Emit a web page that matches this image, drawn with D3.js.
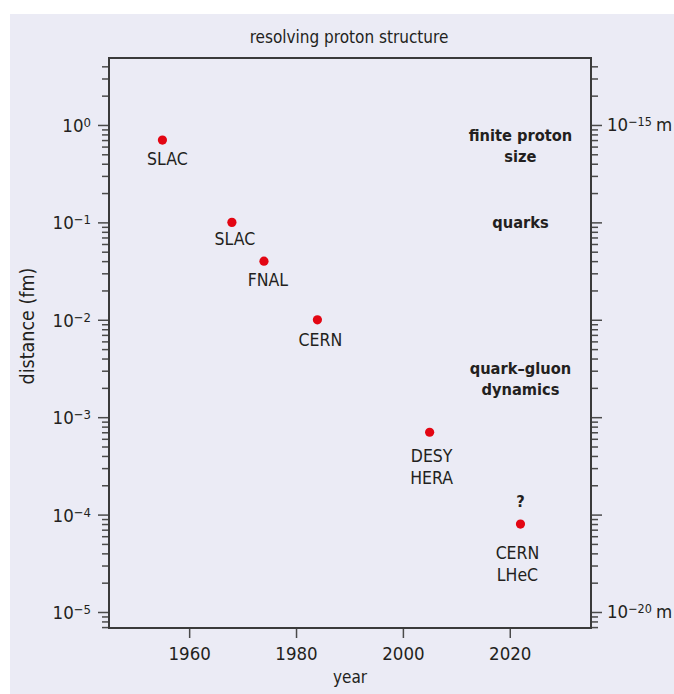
<!DOCTYPE html>
<html>
<head>
<meta charset="utf-8">
<script src="https://cdn.jsdelivr.net/npm/d3@7"></script>
<style>
  html, body { margin: 0; padding: 0; background: #fff; }
  svg { display: block; }
  text { font-family: "DejaVu Sans Condensed", "DejaVu Sans", sans-serif; font-stretch: condensed; fill: #231f20; }
</style>
</head>
<body>
<svg id="chart" width="674" height="694"></svg>
<script>
// experiments: year and smallest distance resolved (fm)
const years = [1955, 1968, 1974, 1984, 2005, 2022];
const distances = [0.7, 0.1, 0.04, 0.01, 0.0007, 0.00008];
const labels = [["SLAC"], ["SLAC"], ["FNAL"], ["CERN"], ["DESY", "HERA"], ["CERN", "LHeC"]];

// axis ticks
const yearTicks = [1960, 1980, 2000, 2020];
const rightExps = [0, -5];
const rightTexts = ["−15", "−20"];

// bold annotations on the right
const noteLines = [["finite proton", "size"], ["quarks"], ["quark–gluon", "dynamics"], ["?"]];
const noteYears = [2022, 2022, 2022, 2022];
const noteDist = [0.69, 0.088, 0.0028, 0.00012];

const svg = d3.select("#chart");
const W = +svg.attr("width");
const H = +svg.attr("height");

// lavender panel
svg.append("rect")
  .attr("x", 10).attr("y", 14)
  .attr("width", W - 10).attr("height", H - 14)
  .attr("fill", "#ebebf5");

const x = d3.scaleLinear().domain([1945, 2035.2]).range([109, 591]);
const y = d3.scaleLog().domain([6.85e-6, 4.87]).range([628, 58]);

const isMajor = (d) => Math.abs(Math.log10(d) - Math.round(Math.log10(d))) < 1e-9;
const expText = (e) => (e === 0 ? "0" : "−" + -e);
const yTicks = y.ticks().filter((d) => d >= y.domain()[0] && d <= y.domain()[1]);

// left axis
const gl = svg.append("g")
  .attr("transform", `translate(${x.range()[0]},0)`)
  .call(d3.axisLeft(y).tickValues(yTicks).tickFormat(""));
gl.select(".domain").remove();
gl.selectAll(".tick text").remove();
gl.selectAll(".tick line")
  .attr("x2", (d) => (isMajor(d) ? -11 : -7))
  .attr("stroke", "#4a4a4a")
  .attr("stroke-width", 1.5);
gl.selectAll(".tick").filter(isMajor)
  .append("text")
  .attr("x", -18).attr("y", 6.5)
  .attr("text-anchor", "end")
  .attr("font-size", 18.5)
  .each(function (d) {
    const t = d3.select(this);
    t.append("tspan").text("10");
    t.append("tspan").attr("font-size", 13).attr("dy", -5)
      .text(expText(Math.round(Math.log10(d))));
  });

// right axis
const gr = svg.append("g")
  .attr("transform", `translate(${x.range()[1]},0)`)
  .call(d3.axisRight(y).tickValues(yTicks).tickFormat(""));
gr.select(".domain").remove();
gr.selectAll(".tick text").remove();
gr.selectAll(".tick line")
  .attr("x2", (d) => (isMajor(d) ? 11 : 7))
  .attr("stroke", "#4a4a4a")
  .attr("stroke-width", 1.5);
rightExps.forEach((e, i) => {
  const t = svg.append("text")
    .attr("x", x.range()[1] + 16)
    .attr("y", y(Math.pow(10, e)) + 6.5)
    .attr("font-size", 18.5);
  t.append("tspan").text("10");
  t.append("tspan").attr("font-size", 12.5).attr("dy", -5).text(rightTexts[i]);
  t.append("tspan").attr("dy", 5).attr("dx", 4).text("m");
});

// bottom axis
const gb = svg.append("g")
  .attr("transform", `translate(0,${y.range()[0]})`)
  .call(d3.axisBottom(x).tickValues(yearTicks).tickSize(10).tickPadding(9).tickFormat(d3.format("d")));
gb.select(".domain").remove();
gb.selectAll(".tick line").attr("stroke", "#4a4a4a").attr("stroke-width", 1.5);
gb.selectAll(".tick text").attr("font-size", 18.5).attr("fill", null);

// frame
svg.append("rect")
  .attr("x", x.range()[0]).attr("y", y.range()[1])
  .attr("width", x.range()[1] - x.range()[0])
  .attr("height", y.range()[0] - y.range()[1])
  .attr("fill", "none")
  .attr("stroke", "#3a3a3a")
  .attr("stroke-width", 2);

// titles
svg.append("text")
  .attr("x", 349).attr("y", 43)
  .attr("text-anchor", "middle")
  .attr("font-size", 17)
  .text("resolving proton structure");

svg.append("text")
  .attr("x", 350).attr("y", 683)
  .attr("text-anchor", "middle")
  .attr("font-size", 17)
  .text("year");

svg.append("text")
  .attr("transform", "translate(34,326) rotate(-90)")
  .attr("text-anchor", "middle")
  .attr("font-size", 19.5)
  .text("distance (fm)");

// points
svg.selectAll("circle.pt")
  .data(years)
  .enter()
  .append("circle")
  .attr("class", "pt")
  .attr("cx", (d) => x(d))
  .attr("cy", (d, i) => y(distances[i]))
  .attr("r", 4.6)
  .attr("fill", "#e30613");

// point labels (small hand nudges, as in the original layout)
const labelDx = [5, 3, 4, 3, 2, -3];
const labelDy = [25, 23, 25, 26, 30, 35];
labels.forEach((lines, i) => {
  const t = svg.append("text")
    .attr("text-anchor", "middle")
    .attr("font-size", 17.5);
  lines.forEach((s, k) => {
    t.append("tspan")
      .attr("x", x(years[i]) + labelDx[i])
      .attr("y", y(distances[i]) + labelDy[i] + k * 21.5)
      .text(s);
  });
});

// bold notes
noteLines.forEach((lines, i) => {
  const t = svg.append("text")
    .attr("text-anchor", "middle")
    .attr("font-size", 16.3)
    .attr("font-weight", "bold");
  lines.forEach((s, k) => {
    t.append("tspan")
      .attr("x", x(noteYears[i]))
      .attr("y", y(noteDist[i]) + k * 21)
      .text(s);
  });
});
</script>
</body>
</html>
